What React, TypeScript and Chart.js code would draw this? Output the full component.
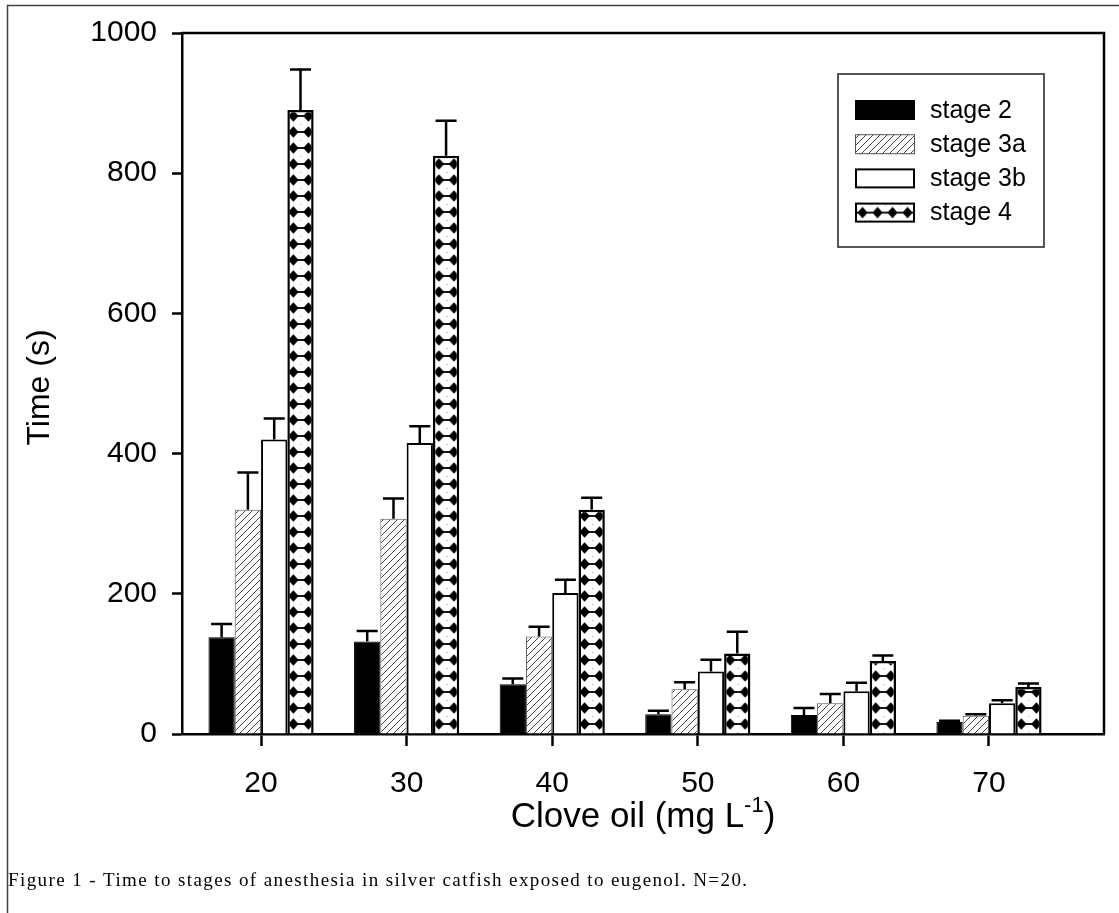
import React, { useEffect, useRef } from 'react';
import { Chart, registerables } from 'chart.js';

Chart.register(...registerables);

// ---- data ----
const concentrations = [20, 30, 40, 50, 60, 70];
const seriesLabels = ['stage 2', 'stage 3a', 'stage 3b', 'stage 4'];
const stage2 = [138, 132, 71, 28, 27, 17];
const stage2Err = [19, 15, 8, 5, 10, 2];
const stage3a = [320, 307, 139, 64, 44, 26];
const stage3aErr = [53, 29, 14, 10, 13, 2];
const stage3b = [420, 415, 201, 89, 61, 44];
const stage3bErr = [30, 24, 19, 17, 12, 4];
const stage4 = [890, 825, 320, 115, 104, 67];
const stage4Err = [58, 50, 17, 31, 8, 5];
const yTicks = [0, 200, 400, 600, 800, 1000];
const xTitle = 'Clove oil (mg L';
const xTitleSup = '-1';
const yTitle = 'Time (s)';
const caption = 'Figure 1 - Time to stages of anesthesia in silver catfish exposed to eugenol. N=20.';

const FONT = '"Liberation Sans", Arial, sans-serif';
const SERIF = '"Liberation Serif", "Times New Roman", serif';

function makeHatchTile(): HTMLCanvasElement {
  const s = 7;
  const c = document.createElement('canvas');
  c.width = s; c.height = s;
  const g = c.getContext('2d')!;
  g.fillStyle = '#fff';
  g.fillRect(0, 0, s, s);
  g.strokeStyle = '#444';
  g.lineWidth = 1;
  g.beginPath();
  g.moveTo(-1, s + 1); g.lineTo(s + 1, -1);
  g.moveTo(-1, 1); g.lineTo(1, -1);
  g.moveTo(s - 1, s + 1); g.lineTo(s + 1, s - 1);
  g.stroke();
  return c;
}

function makeDiamondTile(): HTMLCanvasElement {
  const w = 15, h = 16;
  const c = document.createElement('canvas');
  c.width = w; c.height = h;
  const g = c.getContext('2d')!;
  g.fillStyle = '#fff';
  g.fillRect(0, 0, w, h);
  g.fillStyle = '#000';
  const cx = 7.5, cy = 6, rx = 5.2, ry = 5.8;
  g.beginPath();
  g.moveTo(cx, cy - ry); g.lineTo(cx + rx, cy); g.lineTo(cx, cy + ry); g.lineTo(cx - rx, cy);
  g.closePath();
  g.fill();
  g.fillRect(0, cy - 0.9, w, 1.8);
  g.fillStyle = '#999';
  g.fillRect(0, cy + 8, 1, 1);
  return c;
}

export default function App() {
  const ref = useRef<HTMLCanvasElement>(null);

  useEffect(() => {
    const canvas = ref.current!;
    const pctx = canvas.getContext('2d')!;
    const hatchPattern = pctx.createPattern(makeHatchTile(), 'repeat')!;
    const diamondTile = makeDiamondTile();
    const diamondAt = (left: number, bottom: number) => {
      const p = pctx.createPattern(diamondTile, 'repeat')!;
      p.setTransform(new DOMMatrix([1, 0, 0, 1, left, bottom]));
      return p;
    };
    const catPct = 0.7225;

    const values = [stage2, stage3a, stage3b, stage4];
    const errors = [stage2Err, stage3aErr, stage3bErr, stage4Err];

    const toPoints = (arr: number[]) => concentrations.map((c, i) => ({ x: c, y: arr[i] }));

    const stage4Bg = (ctx: any) => {
      const chart = ctx.chart;
      const xs = chart.scales && chart.scales.x;
      const ys = chart.scales && chart.scales.y;
      if (!xs || !ys || ctx.dataIndex === undefined || !isFinite(xs.getPixelForValue(20))) {
        return diamondAt(0, 0);
      }
      const v = concentrations[ctx.dataIndex];
      const center = xs.getPixelForValue(v);
      const step = xs.getPixelForValue(v + 10) - center;
      const w = (step * catPct) / 4;
      return diamondAt(center + w - 1.5, ys.getPixelForValue(0));
    };

    const errorBarPlugin = {
      id: 'errorBars',
      afterDatasetsDraw(chart: any) {
        const ctx = chart.ctx;
        const ys = chart.scales.y;
        ctx.save();
        ctx.strokeStyle = '#000';
        ctx.lineWidth = 2.5;
        chart.data.datasets.forEach((ds: any, i: number) => {
          const meta = chart.getDatasetMeta(i);
          meta.data.forEach((bar: any, j: number) => {
            const top = ys.getPixelForValue(values[i][j] + errors[i][j]);
            const half = bar.width * 0.4;
            ctx.beginPath();
            ctx.moveTo(bar.x, bar.y);
            ctx.lineTo(bar.x, top);
            ctx.moveTo(bar.x - half, top);
            ctx.lineTo(bar.x + half, top);
            ctx.stroke();
          });
        });
        ctx.restore();
      },
    };

    const framePlugin = {
      id: 'frame',
      afterDraw(chart: any) {
        const ctx = chart.ctx;
        const a = chart.chartArea;
        ctx.save();
        ctx.strokeStyle = '#000';
        ctx.lineWidth = 2.5;
        ctx.beginPath();
        ctx.moveTo(a.left, a.top);
        ctx.lineTo(a.right, a.top);
        ctx.lineTo(a.right, a.bottom);
        ctx.stroke();

        // outer figure border
        ctx.strokeStyle = '#444';
        ctx.lineWidth = 1.5;
        ctx.beginPath();
        ctx.moveTo(7.5, chart.height);
        ctx.lineTo(7.5, 5.5);
        ctx.lineTo(chart.width, 5.5);
        ctx.stroke();

        // legend
        const lx = a.right - 266, ly = a.top + 41, lw = 206, lh = 173;
        ctx.strokeStyle = '#444';
        ctx.lineWidth = 1.8;
        ctx.strokeRect(lx, ly, lw, lh);
        ctx.font = `25px ${FONT}`;
        ctx.textBaseline = 'middle';
        ctx.textAlign = 'left';
        seriesLabels.forEach((lab, i) => {
          const cy = ly + 36 + i * 34.2;
          const sx = lx + 17, sw = 60, sh = 20, sy = cy - sh / 2;
          if (i === 0) {
            ctx.fillStyle = '#000';
            ctx.fillRect(sx, sy, sw, sh);
          } else if (i === 1) {
            ctx.fillStyle = hatchPattern;
            ctx.fillRect(sx, sy, sw, sh);
            ctx.strokeStyle = '#555';
            ctx.lineWidth = 1;
            ctx.strokeRect(sx + 0.5, sy + 0.5, sw - 1, sh - 1);
          } else if (i === 2) {
            ctx.fillStyle = '#fff';
            ctx.fillRect(sx, sy, sw, sh);
            ctx.strokeStyle = '#000';
            ctx.lineWidth = 2;
            ctx.strokeRect(sx + 1, sy + 1, sw - 2, sh - 2);
          } else {
            ctx.fillStyle = diamondAt(sx, sy + 4);
            ctx.fillRect(sx, sy, sw, sh);
            ctx.strokeStyle = '#000';
            ctx.lineWidth = 2;
            ctx.strokeRect(sx + 1, sy + 1, sw - 2, sh - 2);
          }
          ctx.fillStyle = '#000';
          ctx.fillText(lab, sx + 75, cy + 1);
        });

        // axis titles
        ctx.fillStyle = '#000';
        ctx.font = `32px ${FONT}`;
        ctx.textAlign = 'center';
        ctx.textBaseline = 'middle';
        ctx.save();
        ctx.translate(40, (a.top + a.bottom) / 2 + 4);
        ctx.rotate(-Math.PI / 2);
        ctx.fillText(yTitle, 0, 0);
        ctx.restore();

        ctx.textBaseline = 'alphabetic';
        ctx.textAlign = 'left';
        const mainF = `35px ${FONT}`;
        const supF = `22px ${FONT}`;
        ctx.font = mainF;
        const w1 = ctx.measureText(xTitle).width;
        ctx.font = supF;
        const w2 = ctx.measureText(xTitleSup).width;
        ctx.font = mainF;
        const w3 = ctx.measureText(')').width;
        const total = w1 + w2 + w3;
        const cx = (a.left + a.right) / 2;
        let x0 = cx - total / 2;
        const base = a.bottom + 93;
        ctx.fillText(xTitle, x0, base);
        x0 += w1;
        ctx.font = supF;
        ctx.fillText(xTitleSup, x0, base - 15);
        x0 += w2;
        ctx.font = mainF;
        ctx.fillText(')', x0, base);

        // caption
        ctx.font = `19px ${SERIF}`;
        (ctx as any).letterSpacing = '1.4px';
        ctx.fillText(caption, 8, chart.height - 27);
        (ctx as any).letterSpacing = '0px';
        ctx.restore();
      },
    };

    const chart = new Chart(canvas, {
      type: 'bar',
      data: {
        datasets: [
          {
            label: seriesLabels[0],
            data: toPoints(stage2) as any,
            backgroundColor: '#000',
            borderColor: '#000',
            borderWidth: 1,
            barPercentage: 1,
            categoryPercentage: catPct,
          },
          {
            label: seriesLabels[1],
            data: toPoints(stage3a) as any,
            backgroundColor: hatchPattern as any,
            borderColor: '#555',
            borderWidth: 1,
            barPercentage: 1,
            categoryPercentage: catPct,
          },
          {
            label: seriesLabels[2],
            data: toPoints(stage3b) as any,
            backgroundColor: '#fff',
            borderColor: '#000',
            borderWidth: 2,
            barPercentage: 1,
            categoryPercentage: catPct,
          },
          {
            label: seriesLabels[3],
            data: toPoints(stage4) as any,
            backgroundColor: stage4Bg as any,
            borderColor: '#000',
            borderWidth: 2.5,
            barPercentage: 1,
            categoryPercentage: catPct,
          },
        ],
      },
      options: {
        animation: false,
        responsive: true,
        maintainAspectRatio: false,
        layout: { padding: { top: 29, right: 15, left: 0, bottom: 0 } },
        plugins: {
          legend: { display: false },
          tooltip: { enabled: false },
          title: { display: false },
        },
        scales: {
          x: {
            type: 'linear',
            min: 14.57,
            max: 77.9,
            offset: false,
            afterBuildTicks: (s: any) => {
              s.ticks = concentrations.map((v) => ({ value: v }));
            },
            afterFit: (s: any) => {
              s.height = 179;
            },
            ticks: {
              color: '#000',
              font: { family: FONT, size: 30 },
              padding: 20,
              autoSkip: false,
              maxRotation: 0,
              callback: (v: any) => String(v),
            },
            grid: {
              offset: false,
              drawOnChartArea: false,
              drawTicks: true,
              tickLength: 12,
              tickColor: '#000',
              tickWidth: 2.5,
            },
            border: { display: true, color: '#000', width: 2.5 },
          } as any,
          y: {
            type: 'linear',
            min: 0,
            max: 1000,
            afterBuildTicks: (s: any) => {
              s.ticks = yTicks.map((v) => ({ value: v }));
            },
            afterFit: (s: any) => {
              s.width = 182;
            },
            ticks: {
              color: '#000',
              font: { family: FONT, size: 30 },
              padding: 15,
              callback: (v: any) => String(v),
            },
            grid: {
              drawOnChartArea: false,
              drawTicks: true,
              tickLength: 10,
              tickColor: '#000',
              tickWidth: 2.5,
            },
            border: { display: true, color: '#000', width: 2.5 },
          } as any,
        },
      },
      plugins: [errorBarPlugin, framePlugin],
    });

    return () => chart.destroy();
  }, []);

  return (
    <div style={{ position: 'absolute', left: 0, top: 0, width: 1119, height: 913, background: '#fff' }}>
      <canvas ref={ref} />
    </div>
  );
}
